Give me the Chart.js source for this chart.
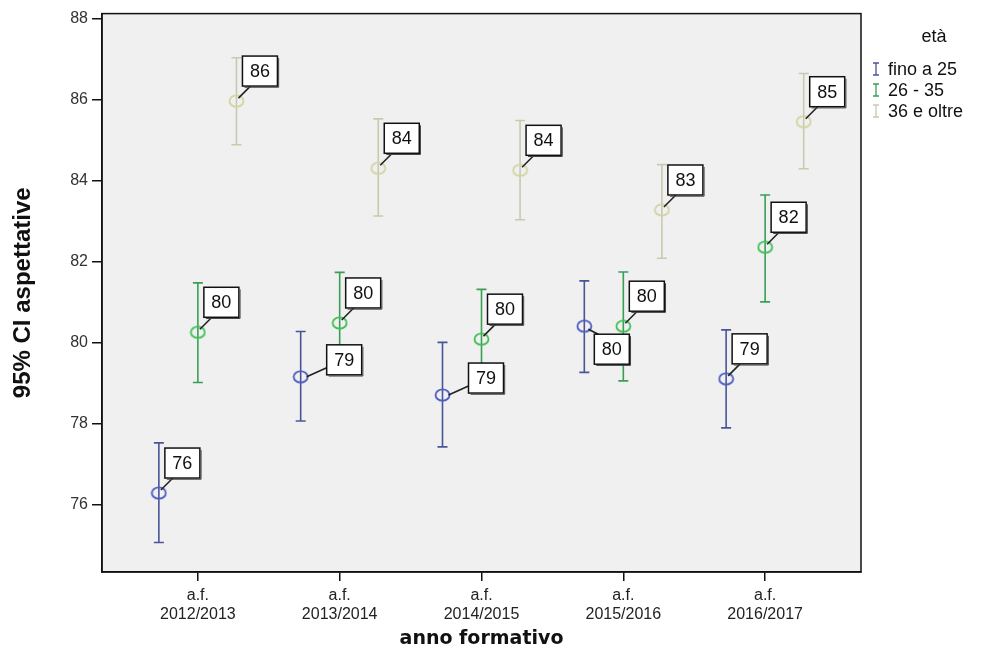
<!DOCTYPE html>
<html><head><meta charset="utf-8">
<script src="https://cdn.jsdelivr.net/npm/chart.js@4"></script>
<style>html,body{margin:0;padding:0;background:#fff;}canvas{display:block}</style>
</head><body>
<canvas id="c" width="994" height="662"></canvas>
<script>
// ---- data ----
const categories = [['a.f.','2012/2013'],['a.f.','2013/2014'],['a.f.','2014/2015'],['a.f.','2015/2016'],['a.f.','2016/2017']];
const groupNames = ['fino a 25','26 - 35','36 e oltre'];
const yTicks = [76,78,80,82,84,86,88];

const meanFino = [76.28, 79.15, 78.70, 80.40, 79.10];
const lowFino  = [75.06, 78.06, 77.42, 79.26, 77.89];
const highFino = [77.52, 80.27, 80.00, 81.52, 80.31];

const meanMid = [80.25, 80.48, 80.08, 80.40, 82.35];
const lowMid  = [79.01, 79.25, 78.86, 79.05, 81.00];
const highMid = [81.47, 81.73, 81.31, 81.74, 83.64];

const meanOld = [85.96, 84.30, 84.25, 83.27, 85.45];
const lowOld  = [84.88, 83.12, 83.03, 82.08, 84.29];
const highOld = [87.03, 85.52, 85.48, 84.39, 86.64];

// ---- styling ----
const placeFino = ['ne','e','e','se','ne'];
const placeMid  = ['ne','ne','ne','ne','ne'];
const placeOld  = ['ne','ne','ne','ne','ne'];
const dodge = [-0.275, 0, 0.272];
const pointColors = ['#4d5bc0','#3fbf55','#d3d3a2'];
const barColors = ['#4a5598','#3a9f55','#c9c9b0'];

const series = [
  {mean: meanFino, low: lowFino, high: highFino, place: placeFino},
  {mean: meanMid, low: lowMid, high: highMid, place: placeMid},
  {mean: meanOld, low: lowOld, high: highOld, place: placeOld}
];

function ellipseImg(color){
  const cv = document.createElement('canvas');
  cv.width = 17; cv.height = 14;
  const g = cv.getContext('2d');
  g.strokeStyle = color; g.lineWidth = 1.8;
  g.beginPath(); g.ellipse(8.5, 7, 7, 5.6, 0, 0, Math.PI*2); g.stroke();
  return cv;
}

const datasets = series.map((s, k) => ({
  label: groupNames[k],
  data: s.mean.map((m, i) => ({x: i + dodge[k], y: m})),
  pointStyle: ellipseImg(pointColors[k]),
  pointRadius: 7,
  borderColor: pointColors[k],
  backgroundColor: 'transparent',
  showLine: false
}));

const bgPlugin = {
  id: 'bg',
  beforeDraw(chart){
    const {ctx, chartArea: a} = chart;
    ctx.save();
    ctx.fillStyle = '#fff'; ctx.fillRect(0,0,chart.width,chart.height);
    ctx.fillStyle = '#f0f0f0'; ctx.fillRect(a.left, a.top, a.right-a.left, a.bottom-a.top);
    ctx.restore();
  },
  afterDraw(chart){
    const {ctx, chartArea: a} = chart;
    ctx.save();
    ctx.strokeStyle = '#111'; ctx.lineWidth = 1.5;
    ctx.strokeRect(a.left, a.top, a.right-a.left, a.bottom-a.top);
    // legend
    ctx.fillStyle = '#111';
    ctx.textBaseline = 'middle';
    ctx.font = '18px "Liberation Sans", Arial, sans-serif';
    ctx.textAlign = 'center';
    ctx.fillText('età', 934, 37);
    ctx.textAlign = 'left';
    groupNames.forEach((n, k) => {
      const y = 69 + k*21;
      ctx.strokeStyle = barColors[k]; ctx.lineWidth = 1.3;
      ctx.beginPath();
      ctx.moveTo(876, y-6); ctx.lineTo(876, y+6);
      ctx.moveTo(873, y-6); ctx.lineTo(879, y-6);
      ctx.moveTo(873, y+6); ctx.lineTo(879, y+6);
      ctx.stroke();
      ctx.fillStyle = '#111';
      ctx.fillText(n, 888, y+1);
    });
    ctx.restore();
  }
};

const errorBars = {
  id: 'errorBars',
  beforeDatasetsDraw(chart){
    const {ctx} = chart;
    const ys = chart.scales.y;
    ctx.save();
    series.forEach((s, k) => {
      const meta = chart.getDatasetMeta(k);
      ctx.strokeStyle = barColors[k];
      ctx.lineWidth = 1.6;
      s.mean.forEach((m, i) => {
        const x = meta.data[i].x;
        const y1 = ys.getPixelForValue(s.low[i]);
        const y2 = ys.getPixelForValue(s.high[i]);
        ctx.beginPath();
        ctx.moveTo(x, y1); ctx.lineTo(x, y2);
        ctx.moveTo(x-5, y1); ctx.lineTo(x+5, y1);
        ctx.moveTo(x-5, y2); ctx.lineTo(x+5, y2);
        ctx.stroke();
      });
    });
    ctx.restore();
  },
  afterDatasetsDraw(chart){
    const {ctx} = chart;
    ctx.save();
    const w = 35, h = 30;
    series.forEach((s, k) => {
      const meta = chart.getDatasetMeta(k);
      s.mean.forEach((m, i) => {
        const cx = meta.data[i].x, cy = meta.data[i].y;
        let bx, by, lx, ly, sx, sy;
        const p = s.place[i];
        if (p === 'ne') { bx = cx + 6; by = cy - 15 - h; lx = bx + 8; ly = by + h; sx = cx + 2; sy = cy - 3; }
        else if (p === 'e') { bx = cx + 26; by = cy - 2 - h; lx = bx; ly = by + h - 7; sx = cx + 6; sy = cy; }
        else { bx = cx + 10; by = cy + 8; lx = bx + 4; ly = by; sx = cx + 4; sy = cy + 3; }
        ctx.strokeStyle = '#222'; ctx.lineWidth = 1.6;
        ctx.beginPath(); ctx.moveTo(sx, sy); ctx.lineTo(lx, ly); ctx.stroke();
        ctx.fillStyle = '#fff';
        ctx.fillRect(bx, by, w, h);
        ctx.strokeStyle = '#111'; ctx.lineWidth = 1.5;
        ctx.strokeRect(bx, by, w, h);
        ctx.strokeStyle = '#444'; ctx.lineWidth = 1;
        ctx.beginPath(); ctx.moveTo(bx+w+1.2, by+2); ctx.lineTo(bx+w+1.2, by+h+1.2); ctx.lineTo(bx+2, by+h+1.2); ctx.stroke();
        ctx.fillStyle = '#111';
        ctx.font = '18px "Liberation Sans", Arial, sans-serif';
        ctx.textAlign = 'center'; ctx.textBaseline = 'middle';
        ctx.fillText(String(Math.round(m)), bx + w/2, by + h/2 + 1);
      });
    });
    ctx.restore();
  }
};

new Chart(document.getElementById('c'), {
  type: 'scatter',
  data: {datasets},
  options: {
    responsive: false,
    animation: false,
    devicePixelRatio: 1,
    layout: {padding: {top: 13, right: 133, left: 0, bottom: 0}},
    plugins: {legend: {display: false}, tooltip: {enabled: false}},
    scales: {
      x: {
        type: 'linear', min: -0.676, max: 4.676,
        afterBuildTicks: s => { s.ticks = categories.map((c, i) => ({value: i})); },
        afterFit: s => { s.height = 90; },
        ticks: {
          callback: v => categories[v],
          font: {family: '"Liberation Sans", Arial, sans-serif', size: 16},
          color: '#222', padding: 5, maxRotation: 0, autoSkip: false
        },
        grid: {drawOnChartArea: false, drawTicks: true, tickLength: 9, color: '#111', lineWidth: 1.5},
        border: {color: '#111', width: 1.5},
        title: {display: true, text: 'anno formativo', color: '#111',
          font: {family: '"DejaVu Sans", Verdana, sans-serif', size: 19, weight: 'bold'},
          padding: {top: 0, bottom: 12}}
      },
      y: {
        min: 74.33, max: 88.12,
        afterBuildTicks: s => { s.ticks = yTicks.map(v => ({value: v})); },
        afterFit: s => { s.width = 102; },
        ticks: {
          font: {family: '"Liberation Sans", Arial, sans-serif', size: 16},
          color: '#333', padding: 4
        },
        grid: {drawOnChartArea: false, drawTicks: true, tickLength: 10, color: '#111', lineWidth: 1.5},
        border: {color: '#111', width: 1.5},
        title: {display: true, text: '95% CI aspettative', color: '#111',
          font: {family: '"Liberation Sans", Arial, sans-serif', size: 24, weight: 'bold'},
          padding: {top: 9, bottom: 0}}
      }
    }
  },
  plugins: [bgPlugin, errorBars]
});
</script>
</body></html>
